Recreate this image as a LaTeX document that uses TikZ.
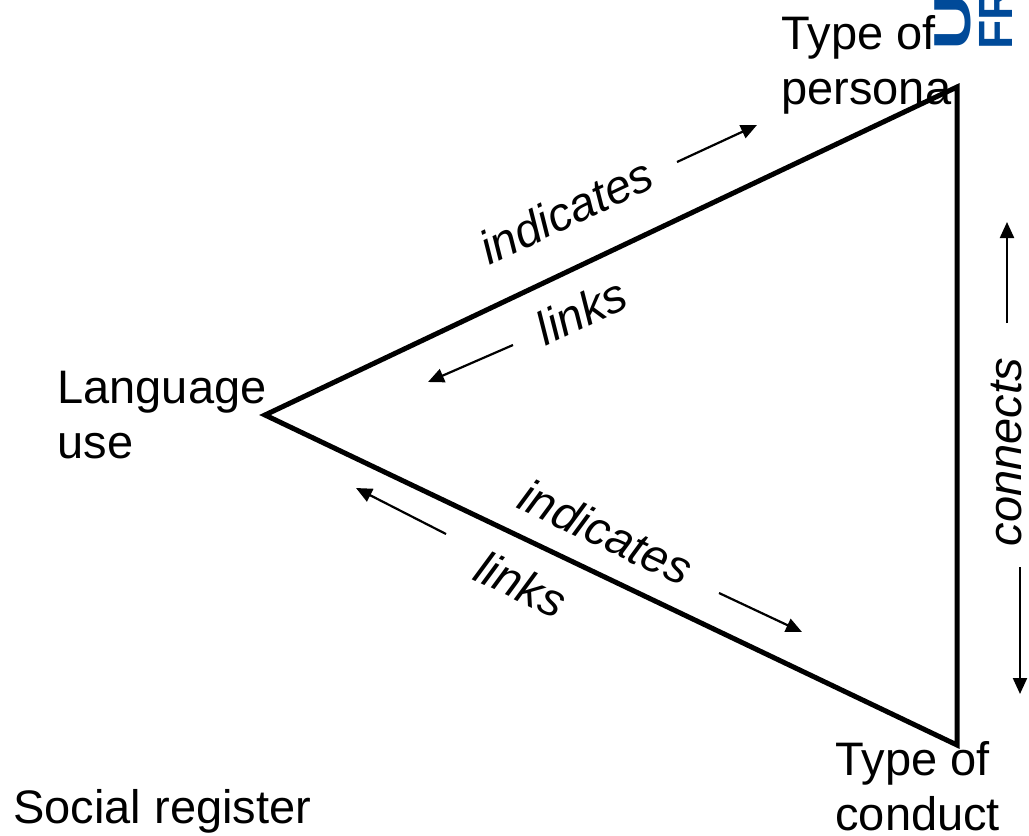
\documentclass[tikz,border=0pt]{standalone}
\usepackage{fontspec}
\setmainfont{Liberation Sans}
\usetikzlibrary{arrows.meta}
\definecolor{FreiburgBlue}{RGB}{0,74,153}

\begin{document}
\begin{tikzpicture}[x=0.5pt,y=-0.5pt,
    vertex/.style={font=\fontsize{23.5}{27.5}\selectfont,inner sep=0pt,align=left,anchor=base west},
    relation/.style={font=\fontsize{23.5}{28}\selectfont\itshape,inner sep=0pt},
    logo/.style={font=\fontsize{24}{27}\selectfont\bfseries,text=FreiburgBlue,inner sep=0pt,anchor=base west,rotate=90},
    side/.style={line width=2.5pt},
    hint/.style={line width=1.1pt,-{Triangle[length=8pt,width=7pt]}}]
    \useasboundingbox (0,0) rectangle (1029,836);

    % logo, cut off by the page edge
    \begin{scope}
        \clip (0,0) rectangle (1029,836);
        \node[logo,font=\fontsize{26}{27}\selectfont\bfseries,xscale=1.5] (uni) at (970,51) {UNI};
        \node[logo] (freiburg) at (1012,50) {FREIBURG};
    \end{scope}

    \coordinate (lang) at (265,415);
    \coordinate (persona) at (957,87);
    \coordinate (conduct) at (957,745);

    % base west is the baseline of the last line
    \node[vertex] (langtext) at (57,458) {Language\\use};
    \node[vertex] (personatext) at (781,104) {Type of\\persona};
    \node[vertex] (conducttext) at (835,830) {Type of\\conduct};
    \node[vertex] (register) at (13,823) {Social register};

    \draw[side] (lang) -- (persona) -- (conduct) -- cycle;

    \node[relation,rotate=25.2] (indup) at (566,211) {indicates};
    \node[relation,rotate=25.2] (linksup) at (581,311) {links};
    \node[relation,rotate=-25.4] (indlow) at (606,532) {indicates};
    \node[relation,rotate=-25.4] (linkslow) at (521,584) {links};
    \node[relation,rotate=90] (connects) at (1007,452) {connects};

    \coordinate (indupA) at (677,162);
    \coordinate (indupB) at (757,125);
    \coordinate (linksupA) at (513,345);
    \coordinate (linksupB) at (428,382);
    \coordinate (indlowA) at (719,593);
    \coordinate (indlowB) at (802,632);
    \coordinate (linkslowA) at (446,534);
    \coordinate (linkslowB) at (356,488);
    \coordinate (connupA) at (1007,323);
    \coordinate (connupB) at (1007,222);
    \coordinate (conndownA) at (1020,567);
    \coordinate (conndownB) at (1020,694);

    \draw[hint] (indupA) -- (indupB);
    \draw[hint] (linksupA) -- (linksupB);
    \draw[hint] (indlowA) -- (indlowB);
    \draw[hint] (linkslowA) -- (linkslowB);
    \draw[hint] (connupA) -- (connupB);
    \draw[hint] (conndownA) -- (conndownB);
\end{tikzpicture}
\end{document}
